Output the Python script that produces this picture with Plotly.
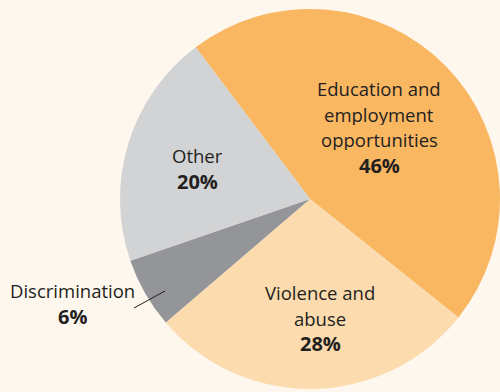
import plotly.graph_objects as go

W, H = 500, 392

categories = ["Education and employment opportunities", "Violence and abuse", "Discrimination", "Other"]
label_lines = [["Education and", "employment", "opportunities"], ["Violence and", "abuse"], ["Discrimination"], ["Other"]]
values = [46, 28, 6, 20]
colors = ["#f9b762", "#fcdbae", "#939598", "#d2d3d5"]

# label anchor (pixel centre of first line) per category
label_pos = [(379, 88), (320, 292), (72, 290), (197, 155)]
line_gap = 25.5

fig = go.Figure(go.Pie(
    labels=categories,
    values=values,
    sort=False,
    direction="clockwise",
    rotation=-37,
    marker=dict(colors=colors, line=dict(width=0)),
    textinfo="none",
    hoverinfo="label+percent",
    showlegend=False,
    domain=dict(x=[0.24, 1.0], y=[0.0, 0.985]),
))

font_family = "Open Sans, Noto Sans, sans-serif"
annotations = []
for lines, v, (px, py) in zip(label_lines, values, label_pos):
    for i, t in enumerate(lines + [f"<b>{v}%</b>"]):
        is_pct = i == len(lines)
        y = py + i * line_gap
        annotations.append(dict(
            x=px / W, y=1 - y / H, xref="paper", yref="paper",
            text=t, showarrow=False, xanchor="center", yanchor="middle",
            height=22, valign="middle",
            font=dict(family=font_family, size=20 if is_pct else 18.5, color="#231f20"),
        ))

fig.update_layout(
    width=W, height=H,
    margin=dict(l=0, r=0, t=0, b=0),
    paper_bgcolor="#fef7ee",
    plot_bgcolor="#fef7ee",
    annotations=annotations,
    shapes=[dict(type="line", xref="paper", yref="paper",
                 x0=134 / W, y0=1 - 308 / H, x1=165 / W, y1=1 - 291 / H,
                 line=dict(color="#231f20", width=1))],
)

fig.write_html("out.html")
